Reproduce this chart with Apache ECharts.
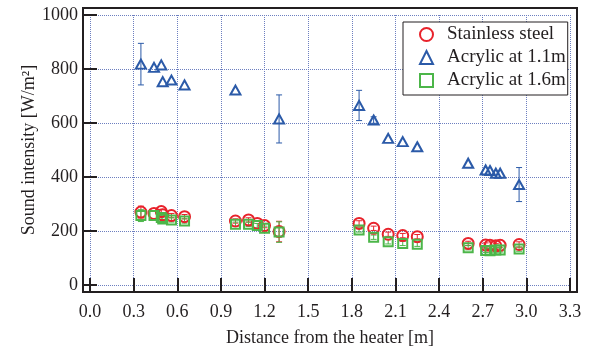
<!DOCTYPE html>
<html>
<head>
<meta charset="utf-8">
<script src="https://cdn.jsdelivr.net/npm/echarts@6/dist/echarts.min.js"></script>
<style>
  html, body { margin: 0; padding: 0; background: #fff; }
  #soundChart { width: 590px; height: 347px; }
</style>
</head>
<body>
<div id="soundChart"></div>
<script>
  // values
  let ssX   = [0.35, 0.44, 0.49, 0.50, 0.56, 0.65, 1.00, 1.09, 1.15, 1.20, 1.30, 1.85, 1.95, 2.05, 2.15, 2.25, 2.60, 2.72, 2.75, 2.79, 2.82, 2.95]
  let ssY   = [270, 265, 272, 260, 257, 253, 237, 241, 228, 220, 198, 228, 210, 188, 183, 179, 154, 148, 147, 145, 147, 150]
  let ssErr = [22, 0, 8, 0, 8, 8, 8, 8, 0, 8, 38, 10, 8, 8, 8, 8, 8, 8, 0, 8, 0, 10]

  let ac11X   = [0.35, 0.44, 0.49, 0.50, 0.56, 0.65, 1.00, 1.30, 1.85, 1.95, 2.05, 2.15, 2.25, 2.60, 2.72, 2.75, 2.79, 2.82, 2.95]
  let ac11Y   = [818, 806, 815, 753, 759, 741, 722, 615, 665, 611, 543, 531, 512, 451, 426, 424, 414, 414, 372]
  let ac11Err = [77, 0, 0, 0, 0, 0, 0, 89, 56, 12, 0, 0, 0, 0, 0, 0, 0, 0, 63]

  let ac16X   = [0.35, 0.44, 0.49, 0.50, 0.56, 0.65, 1.00, 1.09, 1.15, 1.20, 1.30, 1.85, 1.95, 2.05, 2.15, 2.25, 2.60, 2.72, 2.75, 2.79, 2.82, 2.95]
  let ac16Y   = [257, 257, 250, 244, 241, 237, 225, 225, 220, 210, 196, 204, 177, 160, 154, 151, 138, 128, 127, 130, 130, 133]
  let ac16Err = [22, 0, 8, 8, 8, 8, 8, 8, 8, 8, 38, 8, 8, 8, 8, 8, 8, 8, 8, 8, 8, 8]

  let legendNames = ['Stainless steel', 'Acrylic at 1.1m', 'Acrylic at 1.6m']

  let textColor = '#231f20'
  let gridColor = '#6d7fc0'
  let serif = 'Liberation Serif'

  function pairs(xs, ys) {
    return xs.map((x, i) => [x, ys[i]])
  }

  function ticks() {
    return { show: true, inside: true, length: 7, lineStyle: { color: textColor, width: 2 } }
  }

  function dotted() {
    return { show: true, lineStyle: { color: gridColor, type: 'dotted', width: 1 } }
  }

  function errorBars(name, xs, ys, errs, color) {
    let data = []
    xs.forEach((x, i) => {
      if (errs[i] > 0) data.push([x, ys[i] - errs[i], ys[i] + errs[i]])
    })
    return {
      type: 'custom',
      name: name,
      xAxisIndex: 1,
      yAxisIndex: 1,
      silent: true,
      z: 3,
      encode: { x: 0, y: [1, 2] },
      data: data,
      renderItem: function (params, api) {
        let x = api.value(0)
        let top = api.coord([x, api.value(2)])
        let bot = api.coord([x, api.value(1)])
        let w = 3
        let st = { stroke: color, lineWidth: 1 }
        return {
          type: 'group',
          children: [
            { type: 'line', shape: { x1: top[0], y1: top[1], x2: bot[0], y2: bot[1] }, style: st },
            { type: 'line', shape: { x1: top[0] - w, y1: top[1], x2: top[0] + w, y2: top[1] }, style: st },
            { type: 'line', shape: { x1: bot[0] - w, y1: bot[1], x2: bot[0] + w, y2: bot[1] }, style: st }
          ]
        }
      }
    }
  }

  let dom = document.getElementById('soundChart')
  let myChart = echarts.init(dom)

  let option = {
    animation: false,
    textStyle: { fontFamily: serif, color: textColor },
    grid: [
      // outer frame
      { left: 83, top: 8, width: 494, height: 284, outerBoundsMode: 'none', show: true, borderColor: textColor, borderWidth: 2, backgroundColor: 'transparent' },
      // data area
      { left: 90, top: 15, width: 480, height: 270, outerBoundsMode: 'none' }
    ],
    legend: {
      orient: 'vertical',
      left: 403,
      top: 22,
      padding: [1, 2, 3, 16],
      itemWidth: 13,
      itemHeight: 13,
      itemGap: 0,
      borderColor: textColor,
      borderWidth: 1,
      backgroundColor: '#fff',
      textStyle: { fontFamily: serif, fontSize: 19, color: textColor, lineHeight: 23, padding: [0, 0, 0, 9] },
      data: [
        { name: legendNames[0], icon: 'circle', itemStyle: { color: 'rgba(0,0,0,0)', borderColor: '#e8222b', borderWidth: 2 } },
        { name: legendNames[1], icon: 'triangle', itemStyle: { color: 'rgba(0,0,0,0)', borderColor: '#2b5aa8', borderWidth: 2 } },
        { name: legendNames[2], icon: 'rect', itemStyle: { color: 'rgba(0,0,0,0)', borderColor: '#4cb649', borderWidth: 2 } }
      ]
    },
    xAxis: [
      { gridIndex: 0, type: 'value', show: false, min: 0, max: 1 },
      {
        gridIndex: 1,
        type: 'value',
        position: 'bottom',
        offset: 7,
        min: 0,
        max: 3.3,
        interval: 0.3,
        name: 'Distance from the heater [m]',
        nameLocation: 'middle',
        nameGap: 37,
        nameMoveOverlap: false,
        nameTextStyle: { fontFamily: serif, fontSize: 18, color: textColor },
        axisLine: { show: false },
        axisTick: ticks(),
        axisLabel: { fontFamily: serif, fontSize: 18, color: textColor, margin: 11, formatter: v => v.toFixed(1) },
        splitLine: dotted()
      },
      {
        gridIndex: 1,
        type: 'value',
        position: 'top',
        offset: 7,
        min: 0,
        max: 3.3,
        interval: 0.3,
        axisLine: { show: false },
        axisTick: ticks(),
        axisLabel: { show: false },
        splitLine: dotted()
      }
    ],
    yAxis: [
      { gridIndex: 0, type: 'value', show: false, min: 0, max: 1 },
      {
        gridIndex: 1,
        type: 'value',
        position: 'left',
        offset: 7,
        min: 0,
        max: 1000,
        interval: 200,
        name: 'Sound intensity [W/m²]',
        nameLocation: 'middle',
        nameGap: 45,
        nameMoveOverlap: false,
        nameTextStyle: { fontFamily: serif, fontSize: 18, color: textColor },
        axisLine: { show: false },
        axisTick: ticks(),
        axisLabel: { fontFamily: serif, fontSize: 18, color: textColor, margin: 5, formatter: v => String(v) },
        splitLine: dotted()
      },
      {
        gridIndex: 1,
        type: 'value',
        position: 'right',
        offset: 7,
        min: 0,
        max: 1000,
        interval: 200,
        axisLine: { show: false },
        axisTick: ticks(),
        axisLabel: { show: false },
        splitLine: { show: false }
      }
    ],
    series: [
      errorBars('ss-err', ssX, ssY, ssErr, '#e8222b'),
      errorBars('ac11-err', ac11X, ac11Y, ac11Err, '#2b5aa8'),
      errorBars('ac16-err', ac16X, ac16Y, ac16Err, '#4cb649'),
      {
        name: legendNames[0],
        type: 'scatter',
        xAxisIndex: 1,
        yAxisIndex: 1,
        symbol: 'circle',
        symbolSize: 11,
        itemStyle: { color: 'rgba(0,0,0,0)', borderColor: '#e8222b', borderWidth: 2, opacity: 1 },
        z: 4,
        data: pairs(ssX, ssY)
      },
      {
        name: legendNames[1],
        type: 'scatter',
        xAxisIndex: 1,
        yAxisIndex: 1,
        symbol: 'triangle',
        symbolSize: [10, 9],
        itemStyle: { color: 'rgba(0,0,0,0)', borderColor: '#2b5aa8', borderWidth: 2, opacity: 1 },
        z: 4,
        data: pairs(ac11X, ac11Y)
      },
      {
        name: legendNames[2],
        type: 'scatter',
        xAxisIndex: 1,
        yAxisIndex: 1,
        symbol: 'rect',
        symbolSize: 9,
        itemStyle: { color: 'rgba(0,0,0,0)', borderColor: '#4cb649', borderWidth: 2, opacity: 1 },
        z: 4,
        data: pairs(ac16X, ac16Y)
      }
    ]
  }

  myChart.setOption(option, true)
</script>
</body>
</html>
